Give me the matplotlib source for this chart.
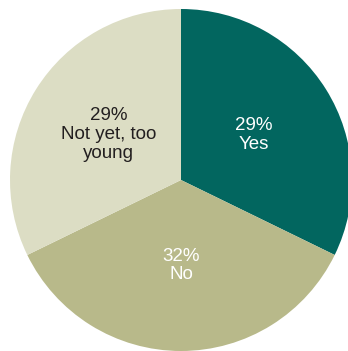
import matplotlib.pyplot as plt

# Survey answers, clockwise from 12 o'clock
answers = ['Yes', 'No', 'Not yet, too\nyoung']
shares = [29, 32, 29]
slice_colors = ['#02665f', '#b8b98a', '#dcddc4']
text_colors = ['white', 'white', '#231f20']

labels = [f'{s}%\n{a}' for s, a in zip(shares, answers)]

fig = plt.figure(figsize=(3.48, 3.51), dpi=100)
ax = fig.add_axes([0, 0, 1, 1])

wedges, texts = ax.pie(shares, labels=labels, colors=slice_colors,
                       startangle=90, counterclock=False,
                       labeldistance=0.5,
                       wedgeprops=dict(linewidth=0),
                       textprops=dict(ha='center', va='center', fontsize=13.5,
                                      family='Liberation Sans',
                                      linespacing=1.15))
for t, c in zip(texts, text_colors):
    t.set_color(c)

# pie is centred at (181, 180) px with a radius of 171 px
ax.set_xlim(-181 / 171, 167 / 171)
ax.set_ylim(-171 / 171, 180 / 171)
ax.set_aspect('auto')
ax.set_axis_off()

plt.savefig('out.png', dpi=100, facecolor='white')
